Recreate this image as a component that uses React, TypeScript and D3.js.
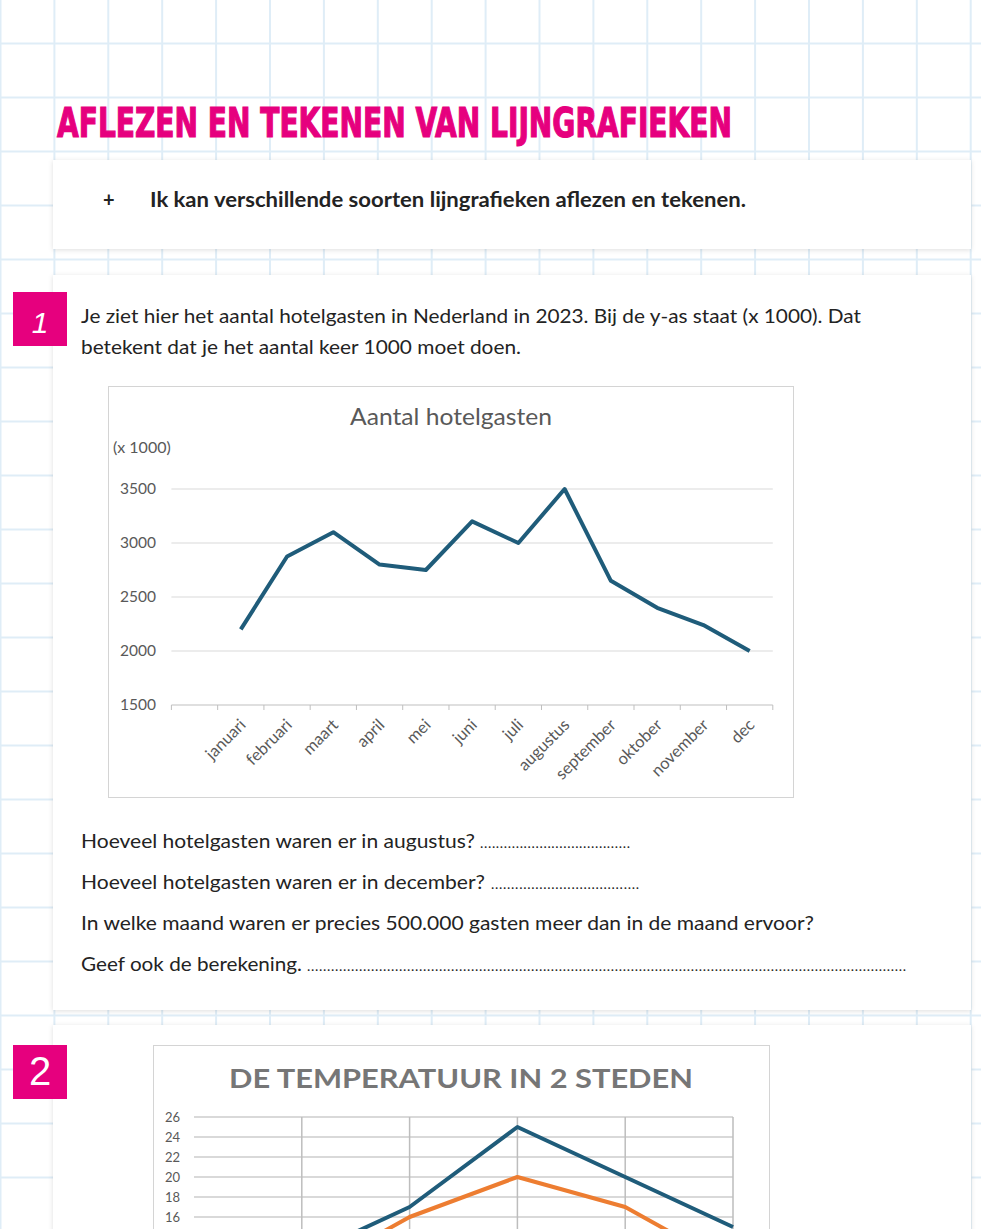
import * as d3 from 'd3';

// chart 1: hotel guests per month (x 1000)
const months = ['januari', 'februari', 'maart', 'april', 'mei', 'juni', 'juli', 'augustus', 'september', 'oktober', 'november', 'dec'];
const guests = [2200, 2875, 3100, 2800, 2750, 3200, 3000, 3500, 2650, 2400, 2240, 2000];
const guestTicks = [1500, 2000, 2500, 3000, 3500];

// chart 2: temperature in two cities (only the top part is visible)
const tempSlots = ['s0', 's1', 's2', 's3', 's4', 's5'];
const cityBlue = [null, 12, 17, 25, 20, 15];
const cityOrange = [null, 10, 16, 20, 17, 11];
const tempTicks = [16, 18, 20, 22, 24, 26];

const W = 981;
const H = 1229;
const PINK = '#e6007e';
const TEXT = '#232323';
const BODY_FONT = "Lato, 'Open Sans', sans-serif";
const CHART_FONT = "Lato, 'Liberation Sans', sans-serif";

const Background = () => {
  const xs = d3.range(0, 19).map((k) => 0.5 + k * 53.9);
  const ys = d3.range(0, 24).map((k) => 43.5 + k * 54);
  return (
    <g stroke="#dfedf7" strokeWidth={2}>
      {xs.map((x) => (
        <line key={'v' + x} x1={x} x2={x} y1={0} y2={H} />
      ))}
      {ys.map((y) => (
        <line key={'h' + y} x1={0} x2={W} y1={y} y2={y} />
      ))}
    </g>
  );
};

const Card = ({ y, h }: { y: number; h: number }) => (
  <rect x={53} y={y} width={918} height={h} fill="#fff" filter="url(#cardShadow)" />
);

const HotelChart = () => {
  const left = 171.4;
  const right = 772.8;
  const x = d3.scaleBand<string>().domain(['', ...months]).range([left, right]).padding(0);
  const y = d3.scaleLinear().domain([1500, 3500]).range([705, 489]);
  const cx = (m: string) => (x(m) ?? 0) + x.bandwidth() / 2;
  const line = d3
    .line<number>()
    .x((_, i) => cx(months[i]))
    .y((d) => y(d));
  const boundaries = [...x.domain().map((d) => x(d) ?? 0), right];

  return (
    <g fontFamily={CHART_FONT} fill="#595959">
      <rect x={108.5} y={386.5} width={685} height={411} fill="#fff" stroke="#d4d4d4" />
      <text x={451} y={425} textAnchor="middle" fontSize={23.5} textLength={202} lengthAdjust="spacingAndGlyphs">
        Aantal hotelgasten
      </text>
      <text x={113} y={453} fontSize={16}>
        (x 1000)
      </text>
      {guestTicks.map((t) => (
        <g key={t}>
          {t > 1500 && <line x1={left} x2={right} y1={y(t)} y2={y(t)} stroke="#d9d9d9" />}
          <text x={156} y={y(t)} dy="0.35em" textAnchor="end" fontSize={15.5}>
            {t}
          </text>
        </g>
      ))}
      <line x1={left} x2={right} y1={y(1500)} y2={y(1500)} stroke="#bfbfbf" />
      {boundaries.map((b) => (
        <line key={b} x1={b} x2={b} y1={y(1500)} y2={y(1500) + 5} stroke="#bfbfbf" />
      ))}
      {months.map((m) => (
        <text key={m} transform={`translate(${cx(m) + 6},${y(1500) + 21}) rotate(-45)`} textAnchor="end" fontSize={16.5}>
          {m}
        </text>
      ))}
      <path d={line(guests) ?? ''} fill="none" stroke="#1f5c7a" strokeWidth={4} strokeLinejoin="round" />
    </g>
  );
};

const TempChart = () => {
  const x = d3.scalePoint<string>().domain(tempSlots).range([194, 733]);
  const y = d3.scaleLinear().domain([0, 26]).range([1377, 1117]);
  const line = d3
    .line<number | null>()
    .defined((d) => d !== null)
    .x((_, i) => x(tempSlots[i]) ?? 0)
    .y((d) => y(d as number));
  return (
    <g fontFamily={CHART_FONT}>
      <rect x={153.5} y={1045.5} width={616} height={300} fill="#fff" stroke="#d4d4d4" />
      <text x={461} y={1088} textAnchor="middle" fontSize={27} fontWeight="bold" fill="#767676" textLength={464} lengthAdjust="spacingAndGlyphs">
        DE TEMPERATUUR IN 2 STEDEN
      </text>
      {tempTicks.map((t) => (
        <g key={t}>
          <line x1={194} x2={733} y1={y(t)} y2={y(t)} stroke="#d9d9d9" strokeWidth={2} />
          <text x={180} y={y(t)} dy="0.35em" textAnchor="end" fontSize={13} fill="#595959">
            {t}
          </text>
        </g>
      ))}
      {tempSlots.slice(1).map((s) => (
        <line key={s} x1={x(s)} x2={x(s)} y1={y(26)} y2={H} stroke="#bdbdbd" strokeWidth={1.5} />
      ))}
      <path d={line(cityOrange) ?? ''} fill="none" stroke="#ed7d31" strokeWidth={4} strokeLinejoin="round" />
      <path d={line(cityBlue) ?? ''} fill="none" stroke="#1f5c7a" strokeWidth={4} strokeLinejoin="round" />
    </g>
  );
};

const Dots = ({ x, y, w }: { x: number; y: number; w: number }) => (
  <text x={x} y={y} fontSize={14} fill={TEXT} textLength={w} lengthAdjust="spacing">
    {'.'.repeat(Math.round(w / 4))}
  </text>
);

export default function App() {
  return (
    <svg width={W} height={H} viewBox={`0 0 ${W} ${H}`} style={{ position: 'absolute', left: 0, top: 0, background: '#fff' }}>
      <defs>
        <filter id="cardShadow" x="-5%" y="-20%" width="110%" height="140%">
          <feDropShadow dx={0} dy={1} stdDeviation={2.5} floodColor="#000" floodOpacity={0.13} />
        </filter>
      </defs>
      <rect width={W} height={H} fill="#fff" />
      <Background />

      <text
        x={57}
        y={137}
        fontFamily="'Liberation Sans Narrow', 'DejaVu Sans Condensed', 'Liberation Sans', sans-serif"
        fontWeight="bold"
        fontSize={41}
        fill={PINK}
        stroke={PINK}
        strokeWidth={1.2}
        textLength={675}
        lengthAdjust="spacingAndGlyphs"
      >
        AFLEZEN EN TEKENEN VAN LIJNGRAFIEKEN
      </text>

      <Card y={160} h={89} />
      <text x={103} y={207} fontFamily={BODY_FONT} fontWeight="bold" fontSize={20} fill={TEXT}>
        +
      </text>
      <text x={150} y={207} fontFamily={BODY_FONT} fontWeight="bold" fontSize={20} fill={TEXT} textLength={596} lengthAdjust="spacingAndGlyphs">
        Ik kan verschillende soorten lijngrafieken aflezen en tekenen.
      </text>

      <Card y={275} h={735} />
      <rect x={13} y={292} width={54} height={54} fill={PINK} />
      <text x={40} y={333} textAnchor="middle" fontFamily="'Liberation Sans', sans-serif" fontStyle="italic" fontSize={30} fill="#fff">
        1
      </text>
      <g fontFamily={BODY_FONT} fontSize={20} fill={TEXT}>
        <text x={81} y={323} textLength={780} lengthAdjust="spacingAndGlyphs">
          Je ziet hier het aantal hotelgasten in Nederland in 2023. Bij de y-as staat (x 1000). Dat
        </text>
        <text x={81} y={354} textLength={440} lengthAdjust="spacingAndGlyphs">
          betekent dat je het aantal keer 1000 moet doen.
        </text>
      </g>

      <HotelChart />

      <g fontFamily={BODY_FONT} fontSize={20} fill={TEXT}>
        <text x={81} y={848} textLength={394} lengthAdjust="spacingAndGlyphs">
          Hoeveel hotelgasten waren er in augustus?
        </text>
        <Dots x={480} y={848} w={150} />
        <text x={81} y={889} textLength={404} lengthAdjust="spacingAndGlyphs">
          Hoeveel hotelgasten waren er in december?
        </text>
        <Dots x={491} y={889} w={148} />
        <text x={81} y={930} textLength={733} lengthAdjust="spacingAndGlyphs">
          In welke maand waren er precies 500.000 gasten meer dan in de maand ervoor?
        </text>
        <text x={81} y={971} textLength={221} lengthAdjust="spacingAndGlyphs">
          Geef ook de berekening.
        </text>
        <Dots x={307} y={971} w={599} />
      </g>

      <Card y={1025} h={260} />
      <rect x={13} y={1045} width={54} height={54} fill={PINK} />
      <text x={40} y={1085} textAnchor="middle" fontFamily="'Liberation Sans Narrow', 'Liberation Sans', sans-serif" fontSize={40} fill="#fff">
        2
      </text>
      <TempChart />
    </svg>
  );
}
